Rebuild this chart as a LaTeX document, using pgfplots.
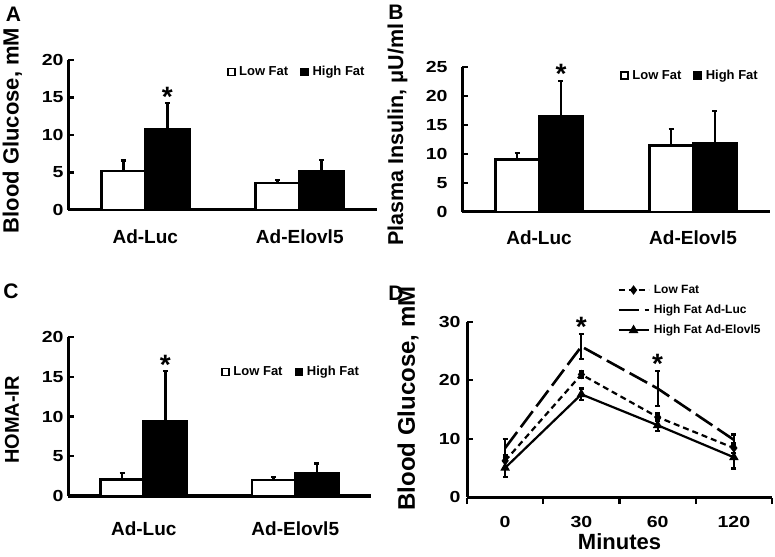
\documentclass[border=0pt]{standalone}
\usepackage{fontspec}
\setmainfont{Liberation Sans}
\newfontfamily\tickfont[FakeStretch=1.22]{Liberation Sans}
\usepackage{pgfplots}
\pgfplotsset{compat=1.18}

\pgfplotsset{
  panel/.style={
    scale only axis,
    axis lines=left,
    axis line style={-, line width=3pt},
    clip=false,
    /pgf/number format/assume math mode=true,
    tick align=inside,
    major tick length=6pt,
    tick style={draw=black, line width=2.2pt},
    tick label style={font=\tickfont\bfseries\fontsize{16}{16}\selectfont},
    yticklabel style={anchor=east, xshift=-1pt},
  },
  barpanel/.style={
    panel,
    xmin=-0.5, xmax=1.5,
    xtick={0,1}, xticklabels={Ad-Luc,Ad-Elovl5},
    xtick style={draw=none},
    xticklabel style={font=\bfseries\fontsize{19}{19}\selectfont, anchor=center},
    legend columns=2,
    legend style={draw=none, fill=none, inner sep=0pt,
      font=\bfseries\fontsize{13}{13}\selectfont,
      /tikz/every even column/.append style={column sep=10pt},
      /tikz/every odd column/.append style={column sep=1.5pt}},
  },
  barerr/.style={
    error bars/y dir=plus, error bars/y explicit,
    error bars/error bar style={line width=2.6pt, black},
    error bars/error mark options={rotate=90, mark size=2.5pt, line width=2.2pt, black}},
  lowbar/.style={ybar, bar width=0.285, bar shift=0, fill=white, draw=black, line width=2.8pt, barerr},
  highbar/.style={ybar, bar width=0.285, bar shift=0, fill=black, draw=black, line width=2.8pt, barerr},
  lowleg/.style={legend image code/.code={\draw[line width=1.8pt, fill=white] (0pt,-3.5pt) rectangle (7pt,3.5pt);}},
  highleg/.style={legend image code/.code={\draw[line width=1.8pt, fill=black] (0pt,-3.5pt) rectangle (7pt,3.5pt);}},
}
\newcommand{\sigstar}{\bfseries\fontsize{28}{28}\selectfont *}

\begin{document}
\begin{tikzpicture}
\useasboundingbox (0,0) rectangle (775pt,556pt);

% ---------------- Panel A ----------------
\begin{axis}[barpanel, at={(68pt,346pt)}, anchor=south west,
  width=309pt, height=150pt,
  ymin=0, ymax=20, ytick={0,5,10,15,20},
  xticklabel style={yshift=-27pt},
  ylabel={\bfseries\fontsize{22}{22}\selectfont Blood Glucose, mM},
  ylabel style={at={(axis description cs:-0.18,0.53)}, anchor=center},
  legend style={at={(axis description cs:0.74,0.92)}, anchor=center}]
\addplot[lowbar, forget plot] coordinates {(-0.1425,5.2) +- (0,1.4) (0.8575,3.6) +- (0,0.4)};
\addplot[highbar, forget plot] coordinates {(0.1425,10.8) +- (0,3.5) (1.1425,5.1) +- (0,1.6)};
\addlegendimage{lowleg}\addlegendentry{Low Fat}
\addlegendimage{highleg}\addlegendentry{High Fat}
\node[anchor=base, inner sep=0pt, yshift=-4pt] at (axis cs:0.1425,14.3) {\sigstar};
\end{axis}
\node[font=\bfseries\fontsize{21}{21}\selectfont] at (13.5pt,541.5pt) {A};

% ---------------- Panel B ----------------
\begin{axis}[barpanel, at={(462pt,344pt)}, anchor=south west,
  width=308pt, height=145pt,
  ymin=0, ymax=25, ytick={0,5,10,15,20,25},
  yticklabel style={xshift=-10pt},
  xticklabel style={yshift=-25.5pt},
  ylabel={\bfseries\fontsize{21.5}{21.5}\selectfont Plasma Insulin, μU/ml},
  ylabel style={at={(axis description cs:-0.209,0.534)}, anchor=center},
  legend style={at={(axis description cs:0.74,0.94)}, anchor=center}]
\addplot[lowbar, forget plot] coordinates {(-0.1425,9.0) +- (0,1.2) (0.8575,11.5) +- (0,2.8)};
\addplot[highbar, forget plot] coordinates {(0.1425,16.4) +- (0,6.2) (1.1425,11.9) +- (0,5.5)};
\addlegendimage{lowleg}\addlegendentry{Low Fat}
\addlegendimage{highleg}\addlegendentry{High Fat}
\node[anchor=base, inner sep=0pt, yshift=-3pt] at (axis cs:0.1425,22.6) {\sigstar};
\end{axis}
\node[font=\bfseries\fontsize{21}{21}\selectfont] at (396pt,544pt) {B};

% ---------------- Panel C ----------------
\begin{axis}[barpanel, at={(68pt,60pt)}, anchor=south west,
  width=303pt, height=159pt,
  ymin=0, ymax=20, ytick={0,5,10,15,20},
  xticklabel style={yshift=-32.5pt},
  ylabel={\bfseries\fontsize{20}{20}\selectfont HOMA-IR},
  ylabel style={at={(axis description cs:-0.185,0.478)}, anchor=center},
  legend style={at={(axis description cs:0.736,0.78)}, anchor=center}]
\addplot[lowbar, forget plot] coordinates {(-0.1425,2.1) +- (0,0.8) (0.8575,2.0) +- (0,0.4)};
\addplot[highbar, forget plot] coordinates {(0.1425,9.4) +- (0,6.3) (1.1425,2.8) +- (0,1.3)};
\addlegendimage{lowleg}\addlegendentry{Low Fat}
\addlegendimage{highleg}\addlegendentry{High Fat}
\node[anchor=base, inner sep=0pt, yshift=-3pt] at (axis cs:0.1425,15.7) {\sigstar};
\end{axis}
\node[font=\bfseries\fontsize{21}{21}\selectfont] at (11pt,264.5pt) {C};

% ---------------- Panel D ----------------
\begin{axis}[panel, at={(467pt,59pt)}, anchor=south west,
  width=305pt, height=175pt,
  xmin=-0.5, xmax=3.5, ymin=0, ymax=30, ytick={0,10,20,30},
  xtick={-0.5,0.5,1.5,2.5,3.5}, xticklabels={0,30,60,120},
  x tick label as interval,
  xtick style={draw=black, line width=2.2pt, yshift=-7pt},
  xticklabel style={anchor=center, yshift=-25pt},
  yticklabel style={xshift=-2pt},
  xlabel={\bfseries\fontsize{22}{22}\selectfont Minutes},
  xlabel style={at={(axis description cs:0.5,-0.255)}, anchor=center},
  ylabel={\bfseries\fontsize{24}{24}\selectfont Blood Glucose, mM},
  ylabel style={at={(axis description cs:-0.193,0.563)}, anchor=center},
  legend style={at={(axis description cs:0.492,1.223)}, anchor=north west,
    draw=none, fill=none, inner sep=0pt, row sep=6pt,
    font=\bfseries\fontsize{12}{12}\selectfont,
    /tikz/every odd column/.append style={column sep=2pt}},
  legend cell align=left,
  legend image code/.code={\draw[#1, mark repeat=2, mark phase=2] plot coordinates {(0pt,0pt) (15pt,0pt) (30pt,0pt)};},
  error bars/y dir=both, error bars/y explicit,
  error bars/error bar style={solid, line width=2.2pt, black},
  error bars/error mark options={solid, rotate=90, mark size=2.5pt, line width=2.2pt, black}]
\addplot[black, line width=2.2pt, dash pattern=on 6pt off 4pt, mark=diamond*, mark size=3pt, mark options={solid}]
  coordinates {(0,6.2) +- (0,1.0) (1,21.0) +- (0,0.5) (2,13.7) +- (0,0.6) (3,8.4) +- (0,0.8)};
\addlegendentry{Low Fat}
\addplot[black, line width=2.6pt, dash pattern=on 20pt off 6pt]
  coordinates {(0,8.4) +- (0,1.5) (1,25.8) +- (0,2.2) (2,18.6) +- (0,3.0) (3,9.8) +- (0,0.9)};
\addlegendentry{High Fat Ad-Luc}
\addplot[black, line width=2.2pt, solid, mark=triangle*, mark size=3.4pt]
  coordinates {(0,5.0) +- (0,1.6) (1,17.6) +- (0,1.0) (2,12.3) +- (0,1.0) (3,6.8) +- (0,1.9)};
\addlegendentry{High Fat Ad-Elovl5}
\node[anchor=base, inner sep=0pt, yshift=-3pt] at (axis cs:1,28.1) {\sigstar};
\node[anchor=base, inner sep=0pt, yshift=-3pt] at (axis cs:2,21.6) {\sigstar};
\end{axis}
\node[font=\bfseries\fontsize{21}{21}\selectfont] at (396pt,263pt) {D};
\end{tikzpicture}
\end{document}
